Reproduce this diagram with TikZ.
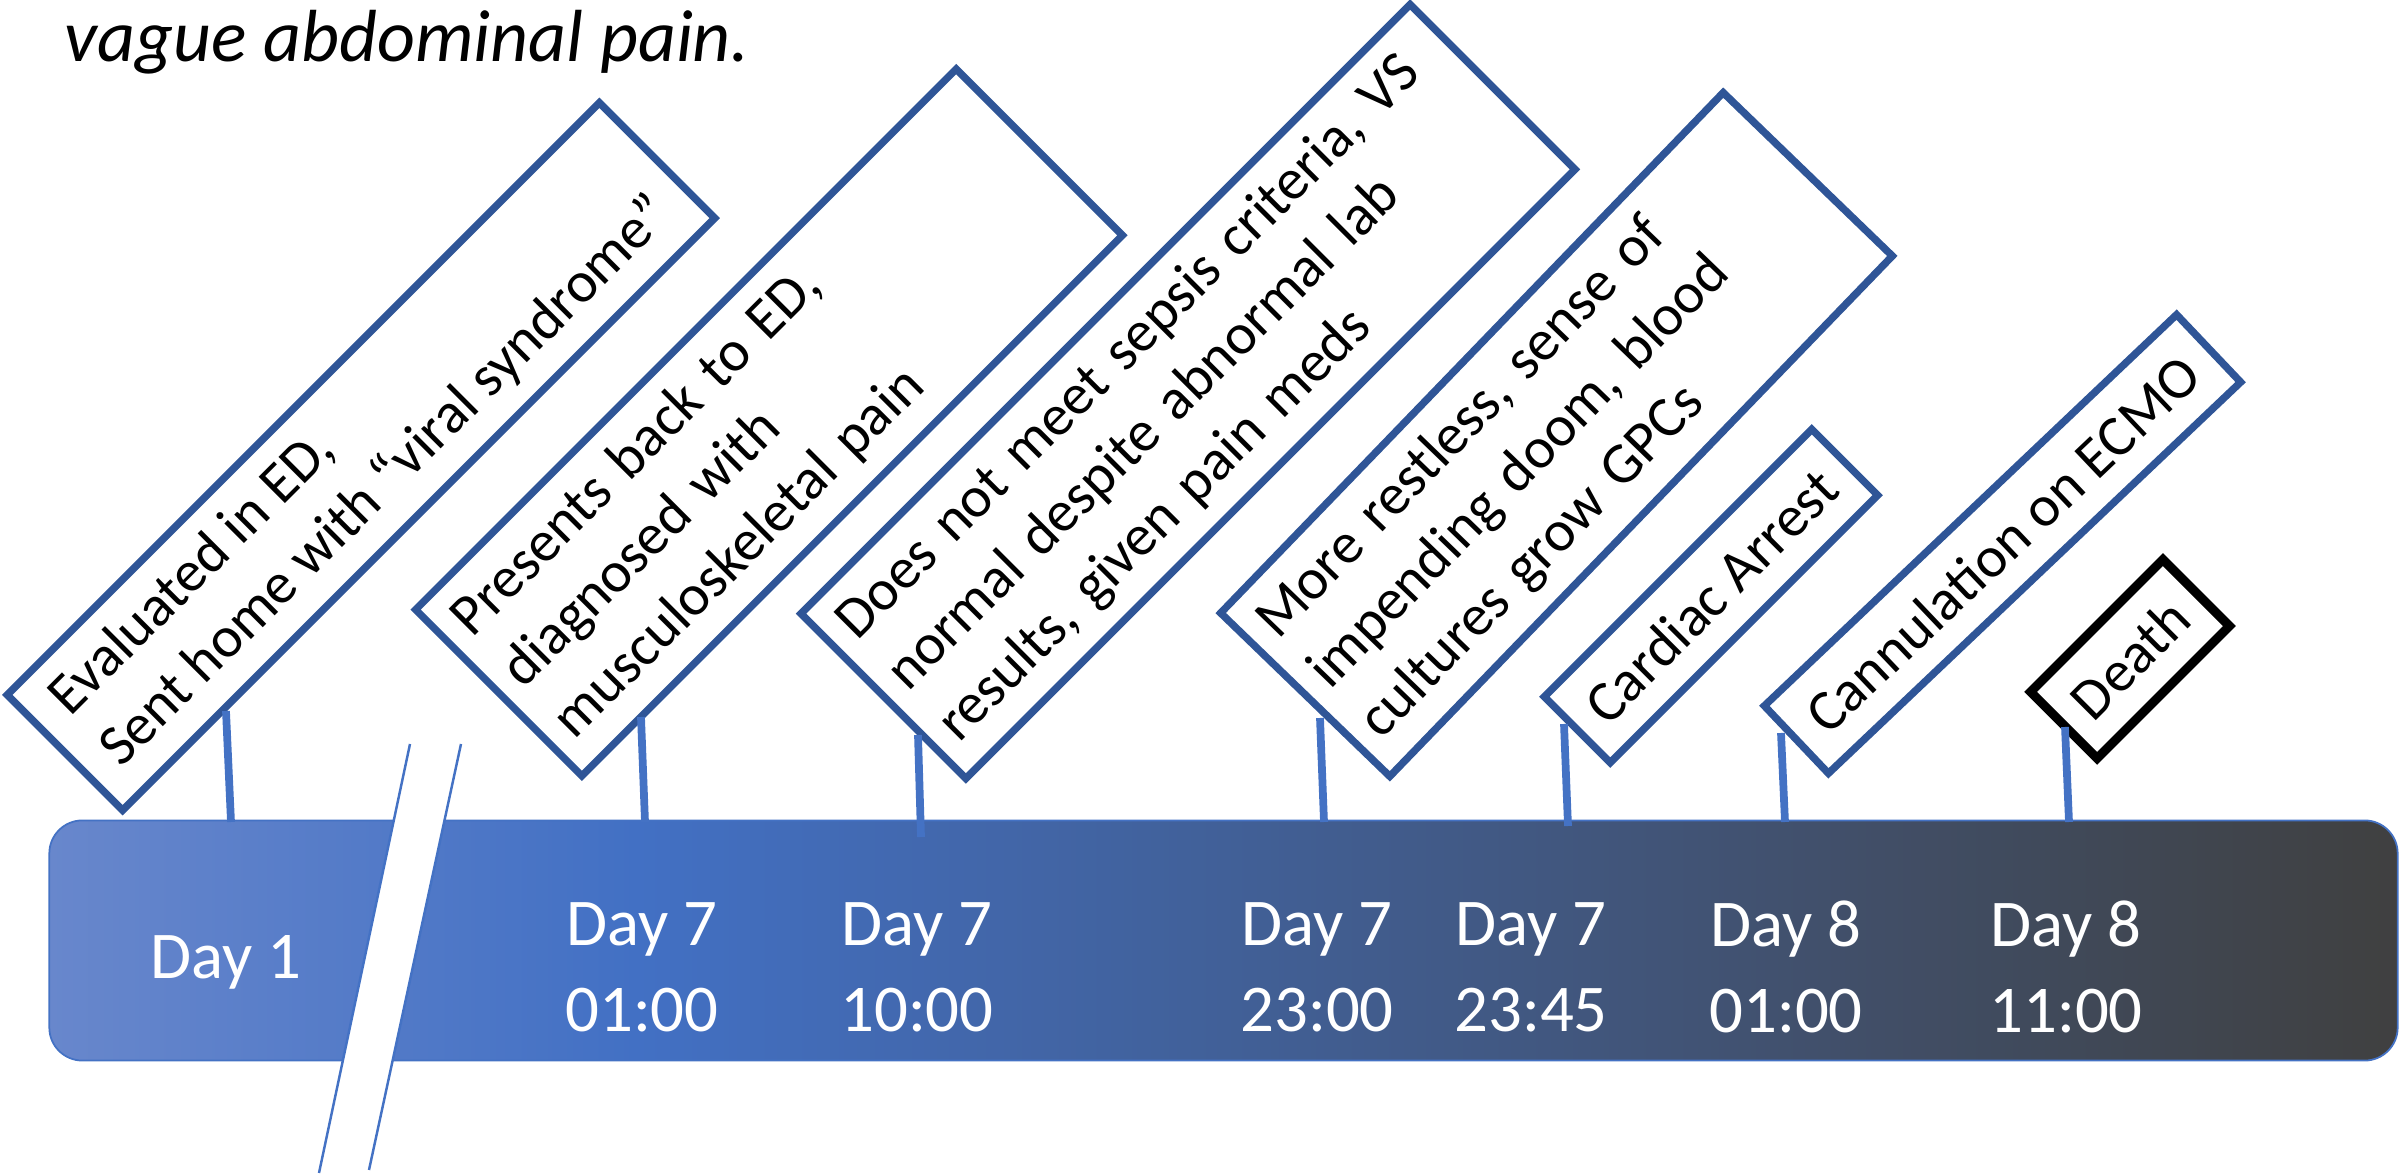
\documentclass[tikz,border=0pt]{standalone}
\usepackage{fontspec}
\setmainfont{Carlito}
\definecolor{boxblue}{RGB}{47,85,151}
\definecolor{tickblue}{RGB}{68,114,196}
\definecolor{barL}{RGB}{104,135,204}
\definecolor{barM}{RGB}{66,112,196}
\definecolor{barR}{RGB}{64,64,64}
% only the middle 50bp of a shading is visible on a path
\pgfdeclarehorizontalshading{barshade}{100bp}{color(0bp)=(barL); color(25bp)=(barL); color(37.5bp)=(barM); color(75bp)=(barR); color(100bp)=(barR)}
\begin{document}
\begin{tikzpicture}[x=0.01cm, y=-0.01cm,
  evt/.style={draw=boxblue, line width=2.1pt, fill=white, inner xsep=0.2cm, inner ysep=0pt,
              font=\fontsize{16.5}{20.5}\selectfont},
  evtl/.style={evt, align=left},
  evtc/.style={evt, align=center},
  tick/.style={draw=tickblue, line width=2.2pt},
  brk/.style={draw=tickblue, line width=0.7pt},
  daylab/.style={text=white, align=center, inner sep=0pt, font=\fontsize{19}{24.5}\selectfont}]
\useasboundingbox (0,0) rectangle (2399,1174);

% heading line
\node[anchor=base west, inner sep=0pt, font=\fontsize{21}{25}\selectfont\itshape] (title) at (64,62) {vague abdominal pain.};

% timeline bar
\node[shade, shading=barshade, draw=tickblue, line width=0.5pt, rounded corners=0.33cm,
      minimum width=23.47cm, minimum height=2.4cm, inner sep=0pt] (bar) at (1223.5,940.5) {};

% time break
\coordinate (bkA) at (410,744);
\coordinate (bkB) at (319,1173);
\coordinate (bkC) at (461,744);
\coordinate (bkD) at (369,1170);
\fill[white] (bkA) -- (bkC) -- (bkD) -- (bkB) -- cycle;
\draw[brk] (bkA) -- (bkB);
\draw[brk] (bkC) -- (bkD);

% time labels
\node[daylab, anchor=base] (d1) at (226,979) {Day 1};
\node[daylab] (d2) at (642,967) {Day 7\\01:00};
\node[daylab] (d3) at (917,967) {Day 7\\10:00};
\node[daylab] (d4) at (1317,967) {Day 7\\23:00};
\node[daylab] (d5) at (1531,967) {Day 7\\23:45};
\node[daylab] (d6) at (1786,967) {Day 8\\01:00};
\node[daylab] (d7) at (2066,967) {Day 8\\11:00};

% event boxes
\node[evtl, rotate=45, minimum width=8.37cm, minimum height=1.63cm, inner xsep=0.1cm] (e1) at (361,456.5)
  {Evaluated in ED,\\Sent home with “viral syndrome”};
\node[evtl, rotate=45, minimum width=7.64cm, minimum height=2.35cm, text width=7.24cm] (e2) at (769,422.5)
  {Presents back to ED,\\diagnosed with\\musculoskeletal pain};
\node[evtl, rotate=45, minimum width=8.61cm, minimum height=2.33cm, text width=8.21cm] (e3) at (1188,391.5)
  {Does not meet sepsis criteria, VS\\normal despite abnormal lab\\results, given pain meds};
\node[evtl, rotate=46, minimum width=7.23cm, minimum height=2.35cm, text width=6.83cm] (e4) at (1556.5,434.5)
  {More restless, sense of\\impending doom, blood\\cultures grow GPCs};
\node[evtc, rotate=45, minimum width=3.78cm, minimum height=0.93cm, inner xsep=0.1cm] (e5) at (1711,596)
  {Cardiac Arrest};
\node[evtc, rotate=43.5, minimum width=5.68cm, minimum height=0.93cm, inner xsep=0.1cm] (e6) at (2002.5,544)
  {Cannulation on ECMO};
\node[evtc, draw=black, line width=2.6pt, rotate=45, minimum width=1.87cm, minimum height=0.94cm, inner xsep=0.1cm] (e7) at (2130,659)
  {Death};

% ticks from each event to the bar
\coordinate (k1a) at (226,711);  \coordinate (k1b) at (231,822);
\coordinate (k2a) at (641,717);  \coordinate (k2b) at (645,822);
\coordinate (k3a) at (918,735);  \coordinate (k3b) at (921,837);
\coordinate (k4a) at (1320,718); \coordinate (k4b) at (1324,822);
\coordinate (k5a) at (1564,724); \coordinate (k5b) at (1568,826);
\coordinate (k6a) at (1781,733); \coordinate (k6b) at (1785,822);
\coordinate (k7a) at (2065,727); \coordinate (k7b) at (2069,822);
\foreach \i in {1,...,7} {\draw[tick] (k\i a) -- (k\i b);}
\end{tikzpicture}
\end{document}
